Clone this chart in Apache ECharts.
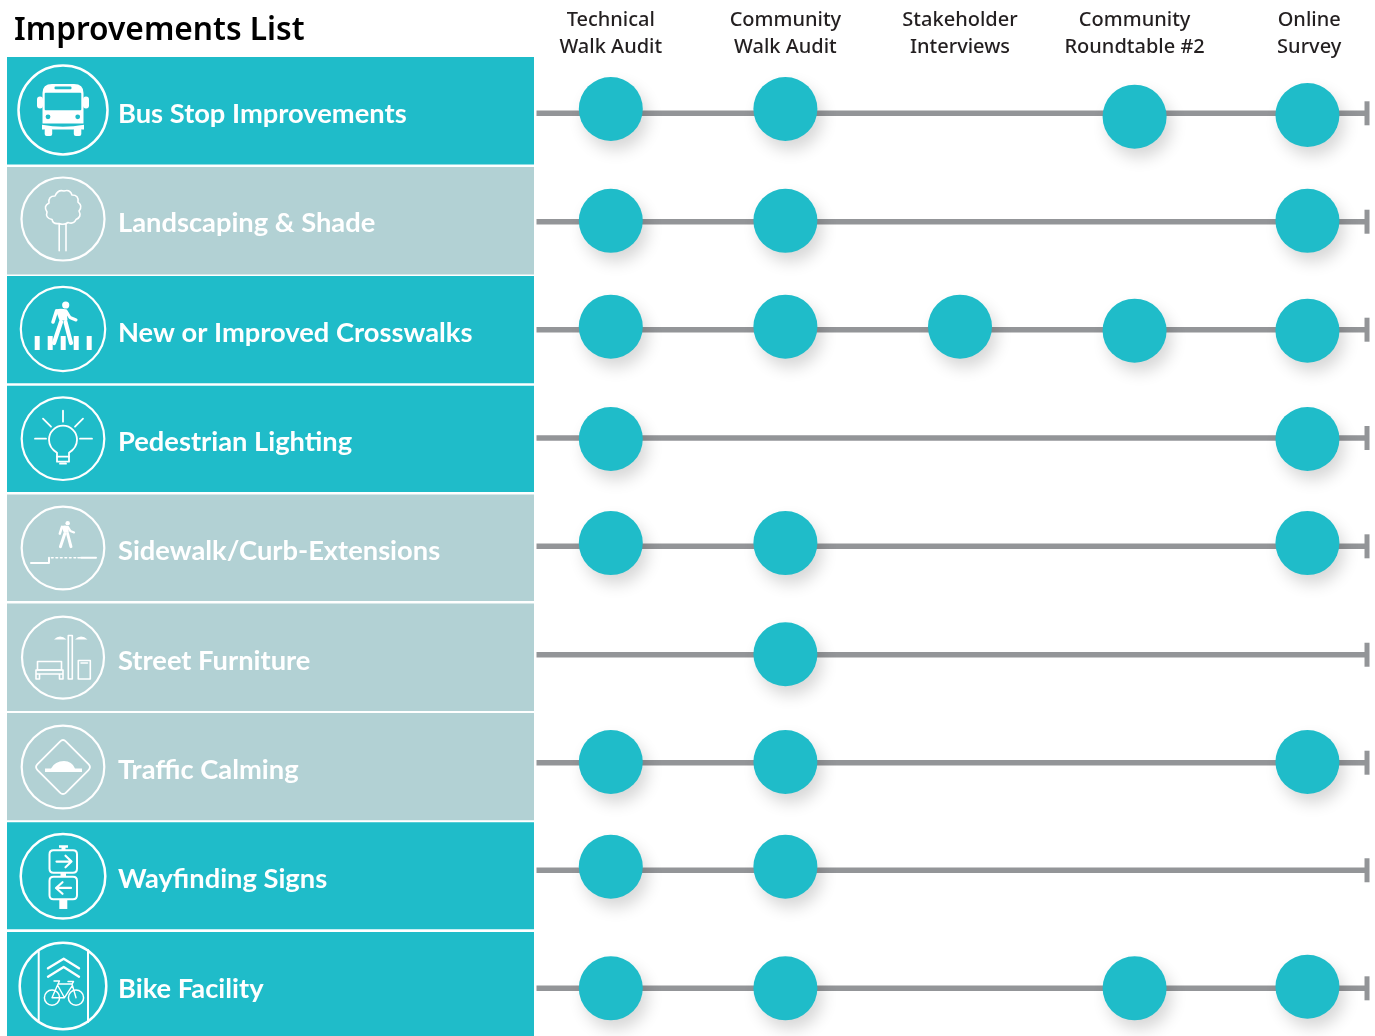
<!DOCTYPE html>
<html>
<head>
<meta charset="utf-8">
<script src="https://cdn.jsdelivr.net/npm/echarts@6/dist/echarts.min.js"></script>
<style>html,body{margin:0;padding:0;background:#fff}#c{width:1375px;height:1036px}</style>
</head>
<body>
<div id="c"></div>
<script>
// ---- data ----
const categories = ['Bus Stop Improvements','Landscaping & Shade','New or Improved Crosswalks','Pedestrian Lighting','Sidewalk/Curb-Extensions','Street Furniture','Traffic Calming','Wayfinding Signs','Bike Facility'];
const columnLabels = ['Technical\nWalk Audit','Community\nWalk Audit','Stakeholder\nInterviews','Community\nRoundtable #2','Online\nSurvey'];
const columnPositions = [0, 1, 2, 3, 3.99];
// vertical row position of each track
const rowTracks = [0, 1.002, 2.0, 3.001, 4.002, 5.004, 6.002, 6.996, 8.087];
// row position of each dot per method; null = method did not cover this improvement
const technicalWalkAudit  = [-0.04, 0.994, 1.972, 3.01, 3.972, null, 5.995, 6.963, 8.087];
const communityWalkAudit  = [-0.04, 0.994, 1.972, null, 3.972, 5.0, 5.995, 6.963, 8.087];
const stakeholderInterviews = [null, null, 1.972, null, null, null, null, null, null];
const communityRoundtable = [0.031, null, 2.009, null, null, null, null, null, 8.087];
const onlineSurvey        = [0.016, 0.994, 2.009, 3.01, 3.972, null, 5.995, null, 8.072];
const bandTops    = [-0.52, 0.497, 1.503, 2.518, 3.524, 4.53, 5.542, 6.552, 7.567];
const bandBottoms = [0.474, 1.489, 2.496, 3.5, 4.507, 5.524, 6.533, 7.54, 8.528];
const highlighted = [1, 0, 1, 1, 0, 0, 0, 1, 1];

// ---- style / layout ----
const TEAL = '#1fbcc9', MUTED = '#b2d1d4', GREY = '#939598', INK = '#231f20';
const iconOffsetY  = [-3.3, -2.7, -0.7, 0.7, 1.7, 2.8, 4.3, 6, -2.3];
const labelOffsetY = [1.2, 1.3, 3.3, 4, 4.7, 6.3, 7.3, 8.7, 0.7];
const iconRadius   = [44.5, 41.5, 42.2, 41.3, 41.3, 41, 41.3, 42.3, 43.3];

const W = 'W', B = 'B';   // W = white fill, B = band-coloured cut-out
const circ = (x, y, r) => `M${x - r} ${y}A${r} ${r} 0 1 1 ${x + r} ${y}A${r} ${r} 0 1 1 ${x - r} ${y}Z`;
const rr = (x, y, w, h, r) => `M${x + r} ${y}H${x + w - r}Q${x + w} ${y} ${x + w} ${y + r}V${y + h - r}Q${x + w} ${y + h} ${x + w - r} ${y + h}H${x + r}Q${x} ${y + h} ${x} ${y + h - r}V${y + r}Q${x} ${y} ${x + r} ${y}Z`;
function walker(dx, dy, s) {
  const p = (x, y) => `${dx + x * s} ${dy + y * s}`;
  const t = s < 1 ? 1.25 : 1.1;
  return [
    {fill: W, d: circ(dx + 2.7 * s, dy - 24 * s, 3.6 * s)},
    {fill: W, d: `M${p(-7.5, -19.5)}Q${p(-2, -21)} ${p(3.5, -19.5)}L${p(4.5, -8.5)}L${p(-3.5, -8.5)}Z`},
    {stroke: 3.2 * s * t, d: `M${p(-6.5, -18)}L${p(-10, -7)}`},
    {stroke: 2.8 * s * t, d: `M${p(3, -18)}L${p(7, -11.5)}L${p(13, -9)}`},
    {stroke: 3.8 * s * t, d: `M${p(-2, -7)}L${p(-9, 14)}`},
    {stroke: 3.8 * s * t, d: `M${p(2.5, -7)}L${p(8, 14)}`}
  ];
}
const icons = [
  // bus
  [
    {fill: W, d: 'M-20.5 -17Q-20.5 -26 -11 -26L11 -26Q20.5 -26 20.5 -17L20.5 13.5L-20.5 13.5Z'},
    {fill: W, d: rr(-26, -13.5, 6, 12, 3)},
    {fill: W, d: rr(20, -13.5, 6, 12, 3)},
    {fill: B, d: rr(-18.3, -17.3, 36.6, 17.5, 1)},
    {fill: B, d: rr(-8.5, -23.5, 17, 2.8, 1)},
    {fill: B, d: circ(-15, 6.8, 2.4)},
    {fill: B, d: circ(14.7, 6.8, 2.4)},
    {fill: W, d: 'M-21 14.8Q0 18.5 21 14.8L21 19.5L-21 19.5Z'},
    {fill: W, d: rr(-18.3, 18, 7.5, 8, 2)},
    {fill: W, d: rr(10.8, 18, 7.5, 8, 2)}
  ],
  // tree
  [
    {stroke: 1.6, d: 'M-4 4.5Q-10 5.5 -11 0.5Q-18 -1 -16 -7Q-20 -13 -14 -16Q-15 -23 -8 -23Q-5 -30 1 -28Q7 -30 9 -24Q16 -24 15 -17Q20 -13 16 -8Q19 -2 13 0.5Q11 5.5 5 3.5Q1 6.5 -4 4.5Z'},
    {stroke: 1.6, d: 'M-3.8 5V31.7M3 5V31.7'}
  ],
  // crosswalk
  [
    ...walker(0, 0, 1),
    {fill: W, d: 'M-28.3 7H-23.3V21H-28.3ZM-15.3 7H-10.3V21H-15.3ZM-2.3 7H2.7V21H-2.3ZM10.7 7H15.7V21H10.7ZM23.7 7H28.7V21H23.7Z'}
  ],
  // lighting
  [
    {stroke: 1.8, d: 'M-6 18V14Q-14 9 -14 1A14 14 0 1 1 14 1Q14 9 6 14V18Z'},
    {stroke: 1.8, d: 'M-6 18V23H6V18M-3 25H3'},
    {stroke: 1.8, d: 'M0 -28V-17M-28 0H-17M17 0H29M-20 -20L-12 -12M20 -20L12 -12'}
  ],
  // sidewalk
  [
    ...walker(3, -10, 0.62),
    {stroke: 2, d: 'M-32 15H-14V9.7M18 9.7H33'},
    {stroke: 1.6, d: 'M-11.5 9.7h1.6M-7 9.7h1.6M-2.5 9.7h1.6M2 9.7h1.6M6.5 9.7h1.6M11 9.7h1.6M15 9.7h1.6'}
  ],
  // furniture
  [
    {stroke: 1.6, d: 'M5.3 -22H9.3V21.5H5.3Z'},
    {fill: W, d: 'M-9 -18Q-3 -24 3.5 -18Z'},
    {fill: W, d: 'M12 -18Q18 -24 24.5 -18Z'},
    {stroke: 1.6, d: 'M-25.5 4H-1.5V12.5H-25.5Z'},
    {stroke: 1.6, d: 'M-27 12.5H0V16.5H-27ZM-27 16.5V21.5H-23.5V16.5M-3.5 16.5V21.5H0V16.5'},
    {stroke: 1.6, d: 'M15.3 3H27.3V21.5H15.3ZM18 5.5H24.5'}
  ],
  // traffic calming
  [
    {stroke: 1.8, d: 'M-3 -25.5Q0 -28.5 3 -25.5L25.5 -3Q28.5 0 25.5 3L3 25.5Q0 28.5 -3 25.5L-25.5 3Q-28.5 0 -25.5 -3Z'},
    {fill: W, d: 'M-18 1.5L-12 1.5Q-8 -6 1 -6Q9 -6 12 1.5L19 1.5L19 5L-18 5Z'}
  ],
  // wayfinding
  [
    {fill: W, d: 'M-4 -31H5V-28.5H2.5V-26H-1.5V-28.5H-4Z'},
    {stroke: 2, d: rr(-13.5, -26, 27.5, 22.5, 4)},
    {stroke: 2, d: rr(-13.5, 0.5, 27.5, 22.5, 4)},
    {fill: W, d: 'M-2.5 -3.5H3V0.5H-2.5Z'},
    {fill: W, d: 'M-3.7 23H4.3V32.7H-3.7Z'},
    {stroke: 2.2, d: 'M-6.5 -14.7H8M2.5 -20.5L8.5 -14.7L2.5 -9'},
    {stroke: 2.2, d: 'M8 11.7H-6.5M-0.5 6L-7 11.7L-0.5 17.5'}
  ],
  // bike
  [
    {stroke: 2, d: 'M-24.3 -36V36M25 -36V36'},
    {stroke: 2.4, d: 'M-15 -17.7L0.7 -27.3L16 -17.7M-15 -9.3L0.7 -19L16 -9.3'},
    {stroke: 1.5, d: circ(-11, 11.7, 7.6) + circ(13, 11.7, 7.6)},
    {stroke: 1.4, d: 'M-11 11.7L-5 -2L9 -2L13 11.7M-5.5 -1L1.5 11.7L-11 11.7M1.5 11.7L9.3 -0.5M-9 -5H-3.5L-5 -2M5 -4.5H10.5L9 -2'}
  ]
];

function bandItem(params, api) {
  const i = api.value(0);
  const tl = api.coord([0, api.value(1)]);
  const br = api.coord([1, api.value(2)]);
  const band = highlighted[i] ? TEAL : MUTED;
  const track = api.coord([0, rowTracks[i]])[1];
  const kids = [
    {type: 'rect', shape: {x: tl[0], y: tl[1], width: br[0] - tl[0], height: br[1] - tl[1]}, style: {fill: band}},
    {type: 'text', style: {text: categories[i], x: tl[0] + 111, y: track + labelOffsetY[i], fill: '#fff', font: '700 27.3px "Lato"', verticalAlign: 'middle'}}
  ];
  const cx = tl[0] + 56, cy = track + iconOffsetY[i];
  kids.push({type: 'path', x: cx, y: cy, shape: {pathData: circ(0, 0, iconRadius[i])}, style: {fill: 'none', stroke: '#fff', lineWidth: i === 0 || i >= 7 ? 2.5 : 2.2}});
  icons[i].forEach(p => {
    kids.push({
      type: 'path', x: cx, y: cy, shape: {pathData: p.d},
      style: p.stroke ? {fill: 'none', stroke: '#fff', lineWidth: p.stroke, lineCap: 'round', lineJoin: 'round'}
                      : {fill: p.fill === B ? band : '#fff', stroke: 'none'}
    });
  });
  return {type: 'group', children: kids};
}

function trackItem(params, api) {
  const y = api.value(0);
  const a = api.coord([-0.4255, y]);
  const b = api.coord([4.3311, y]);
  return {type: 'group', children: [
    {type: 'rect', shape: {x: a[0], y: a[1] - 2.75, width: b[0] - a[0], height: 5.5}, style: {fill: GREY}},
    {type: 'rect', shape: {x: b[0] - 2.5, y: a[1] - 12, width: 5, height: 24}, style: {fill: GREY}}
  ]};
}

const dotColumns = [technicalWalkAudit, communityWalkAudit, stakeholderInterviews, communityRoundtable, onlineSurvey];
const dotSeries = dotColumns.map((col, c) => ({
  type: 'scatter', name: columnLabels[c].replace('\n', ' '), xAxisIndex: 0, yAxisIndex: 0, z: 5,
  symbol: 'circle', symbolSize: 64, silent: true,
  data: col.map(v => v === null ? null : [columnPositions[c], v]).filter(Boolean),
  itemStyle: {color: TEAL, opacity: 1, shadowBlur: 16, shadowOffsetX: 5, shadowOffsetY: 9, shadowColor: 'rgba(0,0,0,0.16)'}
}));

const chart = echarts.init(document.getElementById('c'), null, {renderer: 'canvas'});
chart.setOption({
  animation: false,
  backgroundColor: '#fff',
  title: {text: 'Improvements List', left: 9, top: 10, textStyle: {fontFamily: '"Noto Sans"', fontWeight: 600, fontSize: 31.7, color: '#000'}},
  grid: [
    {left: 536.5, right: 6, top: 57, bottom: 0},
    {left: 7, width: 527, top: 57, bottom: 0}
  ],
  xAxis: [
    {type: 'value', gridIndex: 0, position: 'top', min: -0.4255, max: 4.3425,
     axisLine: {show: false}, axisTick: {show: false}, splitLine: {show: false},
     axisLabel: {customValues: [0, 1, 2, 3, 4], margin: -4, color: INK, fontFamily: '"Noto Sans"', fontWeight: 500, fontSize: 20, lineHeight: 27,
       formatter: v => columnLabels[Math.round(v)]}},
    {type: 'value', gridIndex: 1, min: 0, max: 1, show: false}
  ],
  yAxis: [
    {type: 'value', gridIndex: 0, inverse: true, min: -0.5203, max: 8.5277, show: false},
    {type: 'value', gridIndex: 1, inverse: true, min: -0.5203, max: 8.5277, show: false}
  ],
  series: [
    {type: 'custom', name: 'bands', xAxisIndex: 1, yAxisIndex: 1, z: 1, silent: true, clip: false,
     encode: {x: [], y: [1, 2]},
     data: categories.map((c, i) => [i, bandTops[i], bandBottoms[i]]), renderItem: bandItem},
    {type: 'custom', name: 'tracks', xAxisIndex: 0, yAxisIndex: 0, z: 2, silent: true, clip: false,
     encode: {y: 0},
     data: rowTracks.map(v => [v]), renderItem: trackItem},
    ...dotSeries
  ]
});
</script>
</body>
</html>
